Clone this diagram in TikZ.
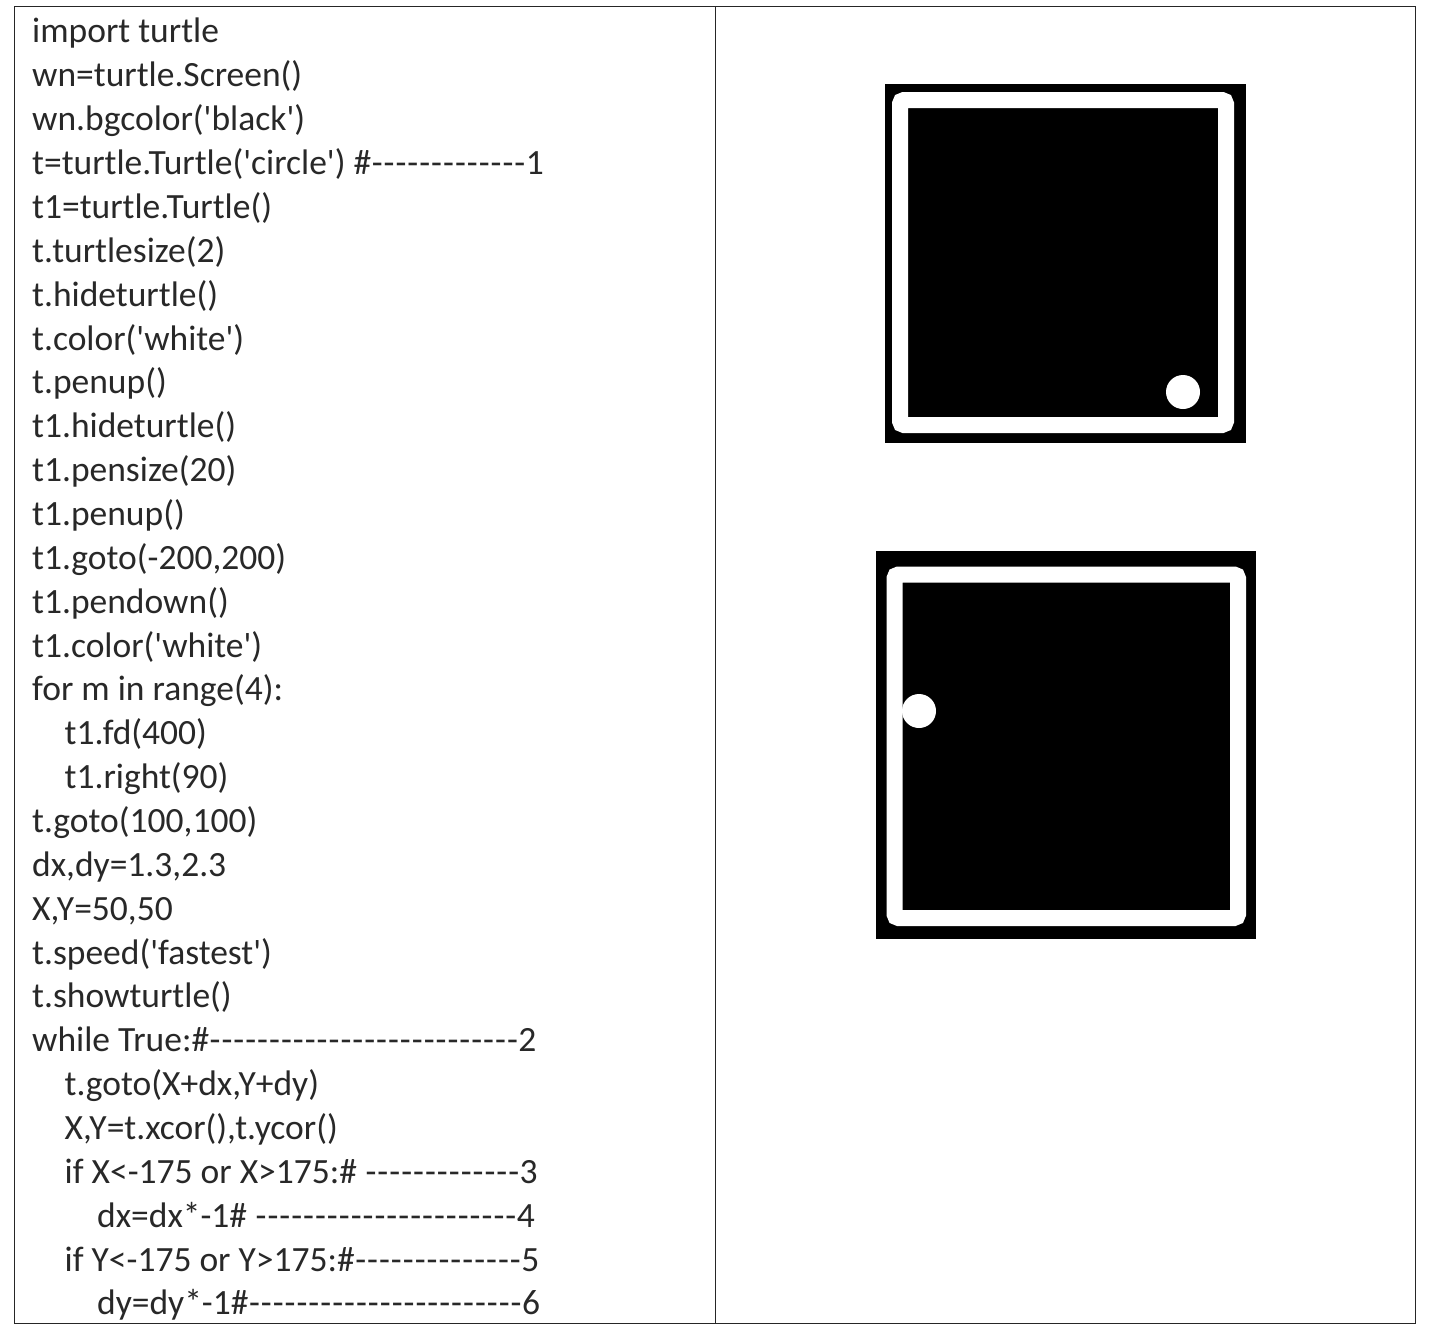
\documentclass[tikz,border=0pt]{standalone}
\usepackage{fontspec}
\setmainfont{Carlito}[Ligatures={TeXOff,CommonOff}]
\definecolor{codegray}{RGB}{40,40,40}
\newcommand\dashrun[1]{\foreach \k in {1,...,#1}{\makebox[11.9pt][c]{-}}}
\begin{document}
\begin{tikzpicture}[x=1pt,y=-1pt,
  codeline/.style={anchor=base west,inner sep=0pt,text=codegray,font=\fontsize{35.5}{42}\selectfont},
  tableline/.style={draw=black!85,line width=1.6pt},
  ring/.style={draw=white,line width=16pt,rounded corners=4pt},
  ball/.style={fill=white,draw=none}]
\useasboundingbox (0,0) rectangle (1431,1330);
\fill[white] (0,0) rectangle (1431,1330);
% table
\draw[tableline] (14.5,6.5) rectangle (1415.5,1323.5);
\draw[tableline] (715.5,6.5) -- (715.5,1323.5);
% code lines
\foreach \i/\ind/\txt in {
 0/0/{import turtle},
 1/0/{wn=turtle.Screen()},
 2/0/{wn.bgcolor('black')},
 3/0/{t=turtle.Turtle('circle') \#\dashrun{13}1},
 4/0/{t1=turtle.Turtle()},
 5/0/{t.turtlesize(2)},
 6/0/{t.hideturtle()},
 7/0/{t.color('white')},
 8/0/{t.penup()},
 9/0/{t1.hideturtle()},
 10/0/{t1.pensize(20)},
 11/0/{t1.penup()},
 12/0/{t1.goto(-200,200)},
 13/0/{t1.pendown()},
 14/0/{t1.color('white')},
 15/0/{for m in range(4):},
 16/1/{t1.fd(400)},
 17/1/{t1.right(90)},
 18/0/{t.goto(100,100)},
 19/0/{dx,dy=1.3,2.3},
 20/0/{X,Y=50,50},
 21/0/{t.speed('fastest')},
 22/0/{t.showturtle()},
 23/0/{while True:\#\dashrun{26}2},
 24/1/{t.goto(X+dx,Y+dy)},
 25/1/{X,Y=t.xcor(),t.ycor()},
 26/1/{if X<-175 or X>175:\# \dashrun{13}3},
 27/2/{dx=dx*-1\# \dashrun{22}4},
 28/1/{if Y<-175 or Y>175:\#\dashrun{14}5},
 29/2/{dy=dy*-1\#\dashrun{23}6}}
{
  \node[codeline] (l\i) at ({32+32.5*\ind},{43+43.86*\i}) {\txt};
}
% screen 1
\fill[black] (885,84) rectangle (1246,443);
\draw[ring] (900,100) rectangle (1226,425);
\fill[ball] (1183,392) circle (17);
% screen 2
\fill[black] (876,551) rectangle (1256,939);
\draw[ring] (894.5,574.5) rectangle (1238,918);
\fill[ball] (919,711) circle (17);
\end{tikzpicture}
\end{document}
